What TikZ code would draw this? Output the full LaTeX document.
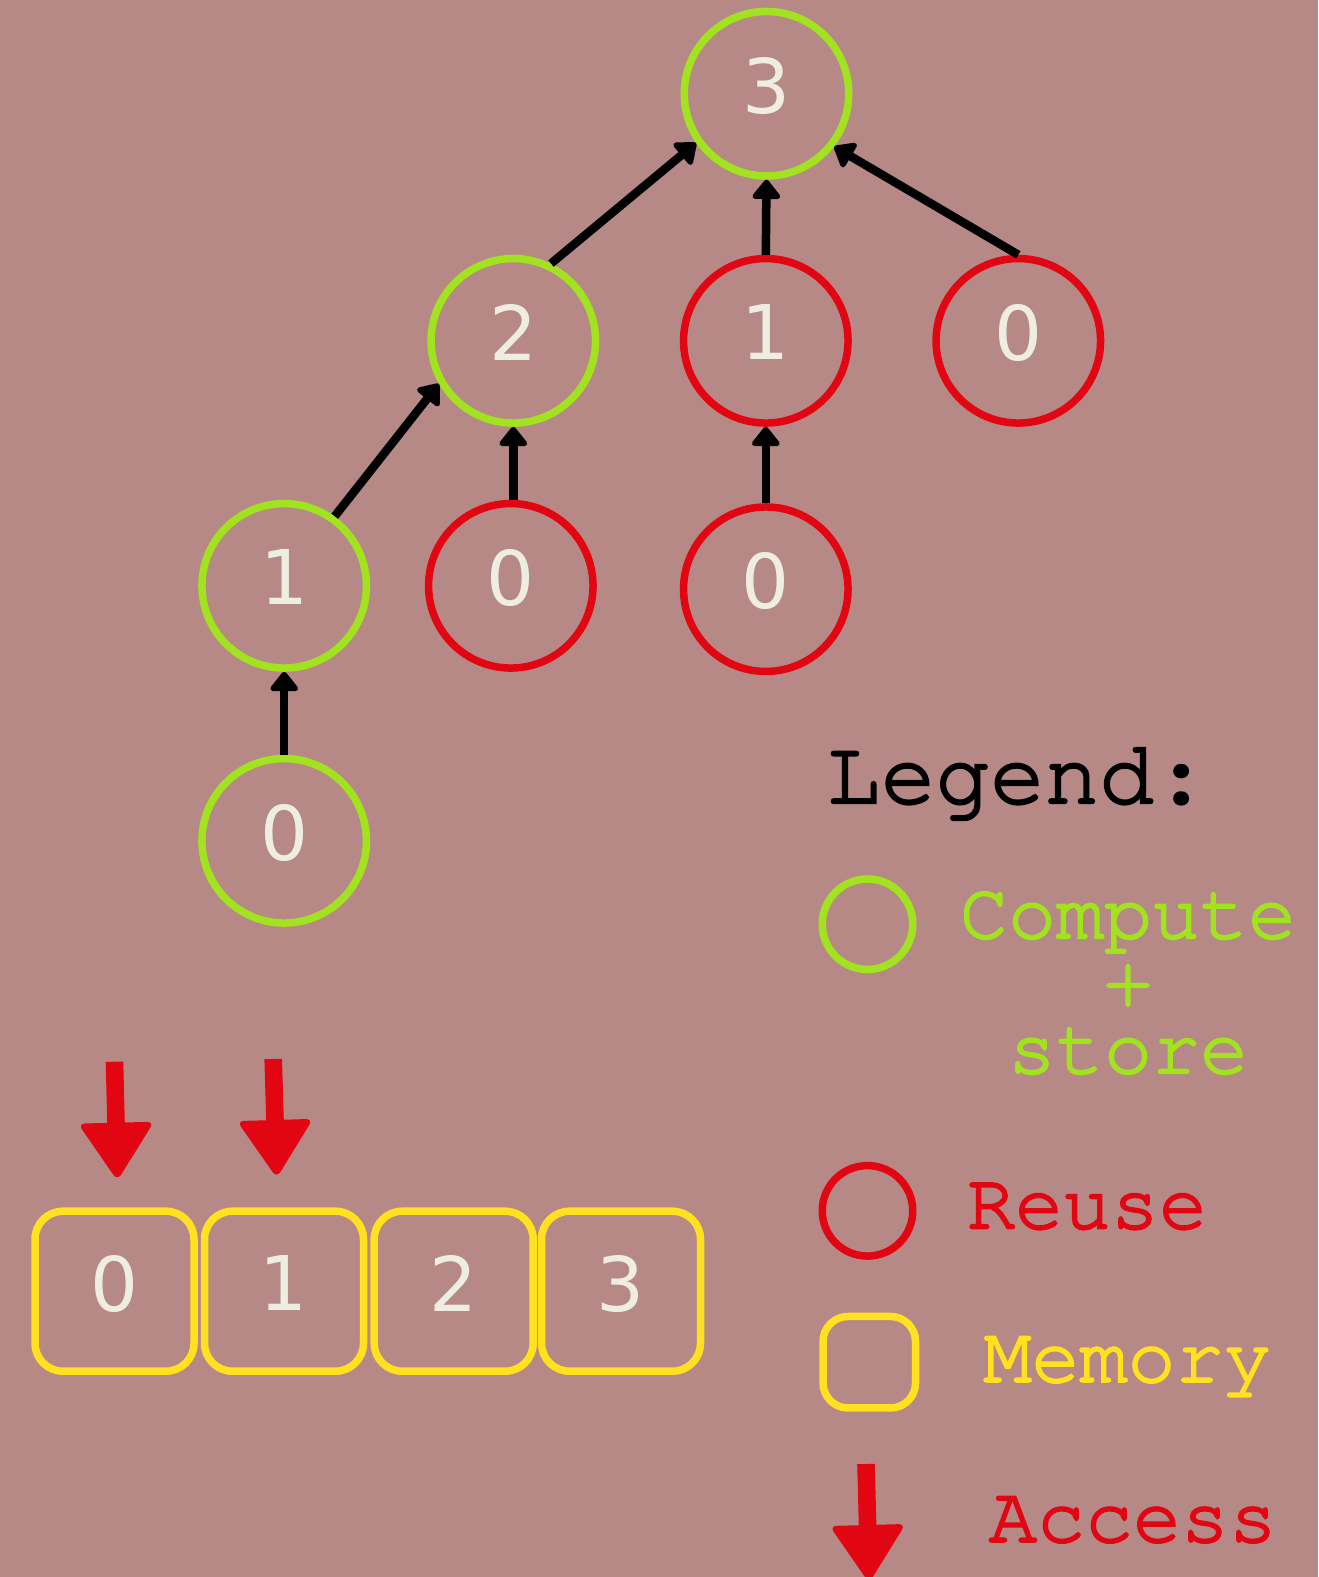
\documentclass[tikz,border=0pt]{standalone}
\usepackage{fontspec}
\usetikzlibrary{arrows.meta}
\newfontfamily\digitfont{DejaVu Sans}
\newfontfamily\legendfont[FakeBold=2.6]{TeX Gyre Cursor}
\definecolor{bgrose}{HTML}{B78986}
\definecolor{compgreen}{HTML}{A2E31F}
\definecolor{reusered}{HTML}{E20613}
\definecolor{memyellow}{HTML}{FFE11F}
\definecolor{digitwhite}{HTML}{EEEDE1}

\begin{document}
\begin{tikzpicture}[x=1pt, y=-1pt,
  val/.style={circle, inner sep=0pt, minimum size=164.5pt, line width=7.5pt,
    text=digitwhite, font=\digitfont\fontsize{75.5}{80}\selectfont, text depth=17pt},
  computed/.style={val, draw=compgreen},
  reused/.style={val, draw=reusered},
  cell/.style={rectangle, rounded corners=28pt, inner sep=0pt,
    minimum width=159pt, minimum height=160pt, line width=7.5pt, draw=memyellow,
    text=digitwhite, font=\digitfont\fontsize{75.5}{80}\selectfont, text depth=16pt},
  dep/.style={line width=8.5pt, -{Triangle[length=21pt, width=32pt, round]}},
  legtext/.style={font=\legendfont\fontsize{80}{67.5}\selectfont, inner sep=0pt},
  access/.pic={
    \fill[reusered] (-8.8,0) rectangle (8.8,63);
    \fill[reusered, rounded corners=7pt] (-38,61) -- (38,61) -- (0,119) -- cycle;
  }
]
% canvas and background
\useasboundingbox (0,0) rectangle (1318,1577);
\fill[bgrose] (0,0) rectangle (1318,1577);

% recursion tree
\node[computed] (t3)  at (766.5,93.7)  {3};
\node[computed] (t2)  at (513.3,340.8) {2};
\node[reused]   (t1r) at (765.8,340.8) {1};
\node[reused]   (t0r) at (1018.3,340.8) {0};
\node[computed] (t1)  at (284.2,585.8) {1};
\node[reused]   (t0a) at (510.8,585.8) {0};
\node[reused]   (t0b) at (765.8,589.2) {0};
\node[computed] (t0)  at (284.2,840.8) {0};

\draw[dep] (t2.64.7)   -- (t3.215);
\draw[dep] (t1r.north) -- (t3.south);
\draw[dep] (t0r.north) -- (t3.322.6);
\draw[dep] (t1.54.6)   -- (t2.210.5);
\draw[dep] (t2.south |- t0a.north) -- (t2.south);
\draw[dep] (t0b.north) -- (t1r.south);
\draw[dep] (t0.north)  -- (t1.south);

% memo table
\node[cell] (m0) at (114.5,1291.2) {0};
\node[cell] (m1) at (284.0,1291.2) {1};
\node[cell] (m2) at (453.7,1291.2) {2};
\node[cell] (m3) at (621.0,1291.2) {3};

\pic[rotate=1.4] (acc0) at (114.5,1061.7) {access};
\pic[rotate=1.7] (acc1) at (273.2,1059.0) {access};

% legend
\node[legtext, font=\legendfont\fontsize{91}{100}\selectfont, anchor=base west]
  (legendtitle) at (826,803) {Legend:};

\node[computed, minimum size=90.5pt] (keycompute) at (867.5,924.2) {};
\node[legtext, text=compgreen, align=center, anchor=base]
  (keycomputetext) at (1128,1073) {Compute\\+\\store};

\node[reused, minimum size=90.5pt] (keyreuse) at (867.5,1210.8) {};
\node[legtext, text=reusered, anchor=base] (keyreusetext) at (1087,1228.3) {Reuse};

\node[cell, minimum width=92.5pt, minimum height=91.5pt, rounded corners=25pt]
  (keymemory) at (869.3,1362.2) {};
\node[legtext, text=memyellow, anchor=base] (keymemorytext) at (1127.5,1381.7) {Memory};

\pic[rotate=1.5] (keyaccess) at (866,1464) {access};
\node[legtext, text=reusered, anchor=base] (keyaccesstext) at (1133,1541.7) {Access};
\end{tikzpicture}
\end{document}
